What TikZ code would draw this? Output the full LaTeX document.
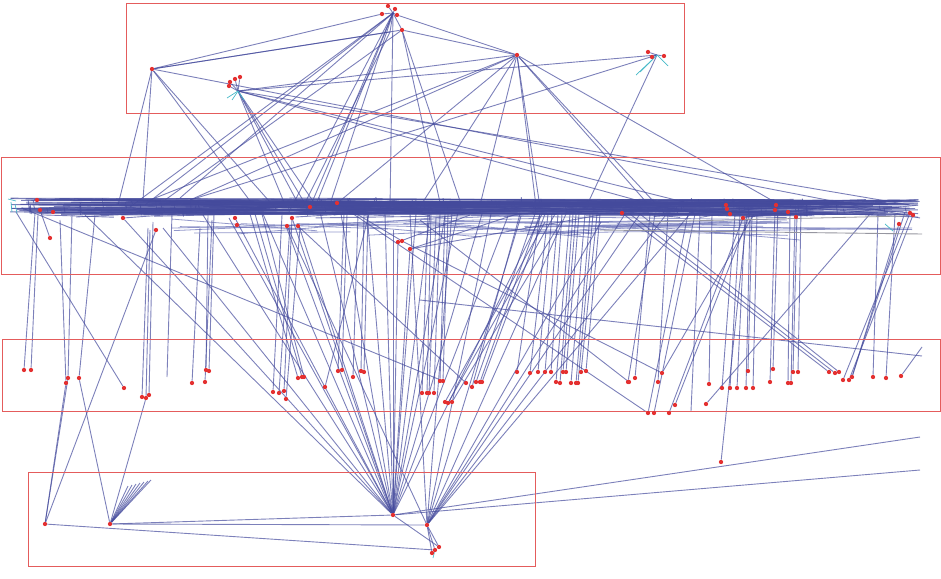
\documentclass[tikz,border=0pt]{standalone}
\pgfdeclarelayer{bg}
\pgfsetlayers{bg,main}
\definecolor{edgec}{RGB}{68,74,156}
\definecolor{edgel}{RGB}{120,126,190}
\definecolor{dotc}{RGB}{228,48,48}
\definecolor{boxc}{RGB}{228,92,92}
\definecolor{cyanc}{RGB}{70,185,200}
\definecolor{grayl}{RGB}{150,150,160}
\begin{document}
\begin{tikzpicture}[x=1pt,y=-1pt,
  edge/.style={draw=edgec, line width=0.9pt, opacity=0.7},
  ledge/.style={draw=edgel, line width=0.8pt, opacity=0.8},
  cedge/.style={draw=cyanc, line width=0.7pt},
  dot/.style={circle, fill=dotc, inner sep=0pt, minimum size=4.3pt},
  grp/.style={draw=boxc, line width=0.9pt}]
\useasboundingbox (0,0) rectangle (941,578);

% group boxes
\draw[grp] (126,3) rectangle (684,113);
\draw[grp] (1,157) rectangle (940,274);
\draw[grp] (2,339) rectangle (940,411);
\draw[grp] (28,472) rectangle (535,566);

% hubs (invisible)
\foreach \n/\x/\y in {t1/393/13, tf/390/32, t4/238/91, t6/657/55}
  \coordinate (\n) at (\x,\y);

% visible dots
\foreach \n/\x/\y in {ta/388/6, tb/395/9, tc/382/14, td/397/15, te/402/30,
  t3/152/69, u1/230/82, u2/235/79, u3/240/77, u4/229/86, t5/517/55,
  v1/648/52, v2/652/57, v3/664/56,
  c1/37/200, c2/40/210, c3/53/212, c4/50/238, c5/123/218, c6/156/230,
  c7/235/218, c8/237/225, c9/292/218, c10/287/226, c11/298/226, c12/310/207,
  c13/337/203, c14/398/242, c15/402/241, c16/410/249, c17/622/213,
  c18/726/205, c19/727/209, c20/730/214, c21/743/218, c22/776/205,
  c23/775/210, c24/788/212, c25/796/217, c26/899/224, c27/910/213, c28/913/215,
  B1/45/524, B2/110/524, B3/393/515, B4/427/525, B5/435/550, B5a/439/547, B5b/432/553}
  \node[dot] (\n) at (\x,\y) {};

\def\lowlist{l1/24/370/35/213, l2/31/370/38/215, l3/68/378/72/215, l4/66/383/60/220,
 l5/79/378/95/215, l6/124/388/16/212, l7/142/397/148/228, l8/146/398/150/230,
 l9/149/395/153/222, l10/192/383/200/228, l11/205/382/212/220, l12/206/370/208/214,
 l13/209/371/214/214, l14/273/392/282/215, l15/279/393/290/225, l16/284/391/292/218,
 l17/286/399/300/228, l18/298/378/250/214, l19/302/377/255/214, l20/304/377/262/214,
 l21/325/387/369/214, l22/338/371/344/214, l23/342/370/347/214, l24/353/377/358/214,
 l25/361/371/364/214, l26/364/372/368/214, l27/422/393/428/214, l28/427/393/431/214,
 l29/429/393/436/218, l30/434/393/440/214, l31/440/381/445/214, l32/443/381/448/214,
 l33/445/402/545/222, l34/448/403/555/214, l35/452/402/562/220, l36/466/383/298/226,
 l37/472/387/520/214, l38/476/382/535/214, l39/480/382/540/214, l40/482/382/545/214,
 l41/517/372/540/214, l42/530/373/548/214, l43/538/372/552/214, l44/545/372/558/214,
 l45/551/372/562/214, l46/556/382/570/214, l47/560/383/573/214, l48/563/372/576/214,
 l49/566/372/579/214, l50/571/383/585/214, l51/576/383/590/214, l52/578/383/593/214,
 l53/581/372/597/214, l54/586/371/600/214, l55/628/382/655/214, l56/629/382/420/220,
 l57/635/378/650/214, l58/658/382/668/214, l59/662/373/754/214, l60/709/384/712/214,
 l61/722/388/735/214, l62/730/388/740/214, l63/737/388/745/218, l64/746/388/750/218,
 l65/753/388/757/214, l66/748/371/752/214, l67/770/382/775/210, l68/773/369/778/205,
 l69/788/383/790/212, l70/791/383/795/217, l71/793/372/797/214, l72/798/372/801/210,
 l73/829/372/622/213, l74/835/373/630/214, l75/839/372/640/214, l76/843/380/910/213,
 l77/849/380/913/215, l78/852/377/905/212, l79/873/377/878/214, l80/886/378/895/214,
 l81/901/376/922/347, l82/648/413/688/214, l83/654/413/695/214, l84/669/413/743/218,
 l85/675/405/750/214, l86/706/404/870/214, l87/721/462/747/214}

\foreach \n/\x/\y/\ux/\uy in \lowlist {
  \node[dot] (\n) at (\x,\y) {};
  \coordinate (\n u) at (\ux,\uy);
}

% band end points used by the top hubs
\foreach \n/\x/\y in {q1/130/207, q2/145/205, q3/165/200, q4/180/198, q5/390/207,
  q6/462/207, q7/290/210, q8/310/207, q9/315/207, q10/303/207, q11/329/207,
  q12/441/207, q13/540/207, q14/536/206, q15/647/203, q16/655/203, q17/780/205,
  q18/190/200, q19/253/205, q20/335/205, q21/421/205, q22/588/203, q23/910/205,
  q24/307/207, q25/317/207, q26/286/207, q27/300/207, q28/143/200, q29/118/205,
  q30/277/210, q31/920/218, q32/700/206, q33/480/205, q34/150/200}
  \coordinate (\n) at (\x,\y);

% free ends
\foreach \n/\x/\y in {e1/920/437, e2/920/470, f1/691/411, f1u/700/214, f2/167/377,
  f2u/172/214, g1/420/300, g2/922/356, gy1/600/230, gy2/922/234, gy3/640/222,
  gy4/905/216, x1/22/208, k1/128/486, k2/132/485, k3/136/484, k4/140/483,
  k5/144/482, k6/148/481, k7/151/480, h1/350/210, h2/470/215, h3/520/213,
  h4/600/215, h5/300/205}
  \coordinate (\n) at (\x,\y);

\begin{pgfonlayer}{bg}
% dense horizontal band
\pgfmathsetseed{2718}
\foreach \i in {1,...,80}{
  \pgfmathsetmacro\xa{10+360*rnd*rnd}
  \pgfmathsetmacro\xb{920-380*rnd*rnd}
  \pgfmathsetmacro\ya{198+17*rnd}
  \pgfmathsetmacro\yb{199+16*rnd}
  \coordinate (ba\i) at (\xa,\ya);
  \coordinate (bb\i) at (\xb,\yb);
  \draw[edge] (ba\i) -- (bb\i);
}
\foreach \i in {1,...,70}{
  \pgfmathsetmacro\xa{20+860*rnd}
  \pgfmathsetmacro\xb{min(\xa+40+220*rnd,918)}
  \pgfmathsetmacro\ya{199+19*rnd}
  \pgfmathsetmacro\yb{199+19*rnd}
  \coordinate (sa\i) at (\xa,\ya);
  \coordinate (sb\i) at (\xb,\yb);
  \draw[edge] (sa\i) -- (sb\i);
}
\foreach \i in {1,...,30}{
  \pgfmathsetmacro\xa{120+560*rnd}
  \pgfmathsetmacro\xb{min(\xa+100+280*rnd,912)}
  \pgfmathsetmacro\ya{214+22*rnd}
  \pgfmathsetmacro\yb{214+26*rnd}
  \coordinate (la\i) at (\xa,\ya);
  \coordinate (lb\i) at (\xb,\yb);
  \draw[ledge] (la\i) -- (lb\i);
}
\foreach \i in {1,...,90}{
  \pgfmathsetmacro\xa{15+900*rnd}
  \pgfmathsetmacro\ya{197+12*rnd}
  \pgfmathsetmacro\yb{\ya+3+8*rnd}
  \coordinate (ta\i) at (\xa,\ya);
  \coordinate (tb\i) at (\xa+1,\yb);
  \draw[edge] (ta\i) -- (tb\i);
}

% top hubs
\foreach \a/\b in {t1/ta, t1/tb, t1/tc, t1/td, t1/te, t1/tf,
  t3/tc, t3/te, t3/tf, t3/q28, t3/q29, t3/q30, t3/q19, t3/q31,
  td/t5, te/t5,
  t1/q5, te/q6, t1/q1, t1/q2, te/q3, t1/q4, t1/q7, tf/q10, t1/q9, t1/q11, te/q12, t1/q8,
  t5/q13, t5/q14, t5/q15, t5/q16, t5/q17, t5/q18, t5/q20, t5/q21, t5/q33, t5/q34,
  t6/v1, t6/v2, t6/v3, t6/q22, t6/q18, t4/t6,
  t4/u1, t4/u2, t4/u3, t4/u4, t4/t5, t4/q23, t4/q15, t4/q24, t4/q25, t4/q26, t4/q27, t4/q32}
  \draw[edge] (\a) -- (\b);

% lower dots to the band
\foreach \n/\x/\y/\ux/\uy in \lowlist
  \draw[edge] (\n u) -- (\n);

% fans of the bottom hubs
\foreach \x/\y in {85/215, 163/228, 203/215, 229/218, 263/214, 286/226, 299/226,
  320/212, 341/214, 367/214, 385/214, 393/230, 416/214, 430/214, 445/216, 458/212,
  482/214, 508/216, 542/214}{
  \coordinate (r\x) at (\x,\y);
  \draw[edge] (B3) -- (r\x);
}
\foreach \x/\y in {410/214, 452/212, 491/214, 521/216, 566/214, 601/222, 625/214,
  640/214, 665/216, 690/214}{
  \coordinate (s\x) at (\x,\y);
  \draw[edge] (B4) -- (s\x);
}
\foreach \a/\b in {B3/c5, B3/c7, B3/c9, B3/c14, B3/c16, B4/c10, B3/e1, B3/e2,
  B1/l3, B1/l4, B1/c6, B1/B5, B2/l5, B2/l8, B2/B3, B2/B4, B4/B5, B4/B5a, B4/B5b,
  B3/B5a, B2/k1, B2/k2, B2/k3, B2/k4, B2/k5, B2/k6, B2/k7,
  c2/c4, c13/l82, c15/l59, c26/l78, x1/l32, f1u/f1, f2u/f2, g1/g2,
  c14/h2, c15/h1, c16/h3, c16/h4, c5/h5}
  \draw[edge] (\a) -- (\b);
\draw[draw=grayl, line width=0.9pt] (gy1) -- (gy2);
\draw[draw=grayl, line width=0.8pt] (gy3) -- (gy4);

% small cyan marks
\draw[cedge] (8,199) -- (16,201);
\draw[cedge] (11,202) -- (12,212);
\draw[cedge] (15,204) -- (17,213);
\draw[cedge] (t4) -- (232,100);
\draw[cedge] (t4) -- (227,98);
\draw[cedge] (t4) -- (244,100);
\draw[cedge] (t6) -- (640,72);
\draw[cedge] (652,60) -- (636,75);
\draw[cedge] (t6) -- (668,66);
\draw[cedge] (885,224) -- (893,231);
\draw[cedge] (B5) -- (433,558);
\end{pgfonlayer}
\end{tikzpicture}
\end{document}
